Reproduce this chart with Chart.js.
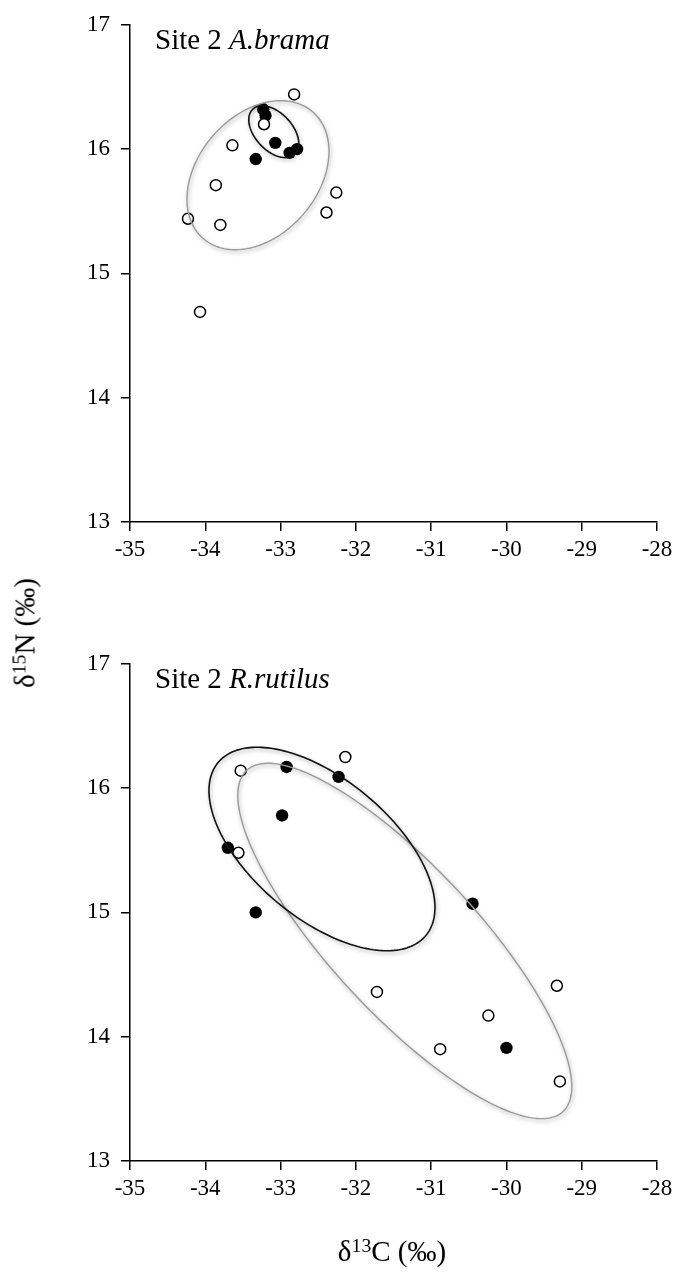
<!DOCTYPE html>
<html>
<head>
<meta charset="utf-8">
<script src="https://cdn.jsdelivr.net/npm/chart.js@4.4.1/dist/chart.umd.min.js"></script>
<style>
    body { margin: 0; background: #fff; }
    #wrap { position: relative; width: 678px; height: 1282px; font-family: "Liberation Serif", "Times New Roman", serif; color: #000; }
    .painel { position: absolute; left: 0; width: 678px; height: 600px; }
    #rotuloY { position: absolute; left: 25px; top: 633px; transform: translate(-50%, -50%) rotate(-90deg); font-size: 29px; white-space: nowrap; }
    #rotuloX { position: absolute; left: 392px; top: 1251px; transform: translate(-50%, -50%); font-size: 29px; white-space: nowrap; }
    sup { font-size: 0.68em; vertical-align: 0.45em; line-height: 0; }
</style>
</head>
<body>
<div id="wrap">
    <canvas id="graficoBrama" class="painel" width="678" height="600" style="top:0px"></canvas>
    <canvas id="graficoRutilus" class="painel" width="678" height="600" style="top:639px"></canvas>
    <div id="rotuloY">δ<sup>15</sup>N (‰)</div>
    <div id="rotuloX">δ<sup>13</sup>C (‰)</div>
</div>
<script>
// eixos
const ticksX = [-35, -34, -33, -32, -31, -30, -29, -28];
const ticksY = [13, 14, 15, 16, 17];

// Site 2 A. brama
const bramaAbertosX = [-32.82, -33.22, -33.64, -33.86, -34.23, -33.80, -32.26, -32.39, -34.07];
const bramaAbertosY = [16.44, 16.20, 16.03, 15.71, 15.44, 15.39, 15.65, 15.49, 14.69];
const bramaCheiosX = [-33.23, -33.20, -33.07, -33.33, -32.88, -32.78];
const bramaCheiosY = [16.32, 16.27, 16.05, 15.92, 15.97, 16.00];
// elipses: centro x, centro y, eixo u (x, y), eixo v (x, y) em unidades dos dados
const bramaElipseCinza = [-33.30, 15.79, 0.943, 0.192, 0, 0.568];
const bramaElipsePreta = [-33.09, 16.14, 0.332, -0.096, 0, 0.185];

// Site 2 R. rutilus
const rutilusAbertosX = [-33.53, -32.14, -33.56, -31.72, -29.33, -30.24, -30.88, -29.29];
const rutilusAbertosY = [16.14, 16.25, 15.48, 14.36, 14.41, 14.17, 13.90, 13.64];
const rutilusCheiosX = [-32.92, -32.23, -32.98, -33.70, -33.33, -30.45, -30.00];
const rutilusCheiosY = [16.17, 16.09, 15.78, 15.52, 15.00, 15.07, 13.91];
const rutilusElipseCinza = [-31.35, 14.77, 2.218, -1.171, 0, 0.82];
const rutilusElipsePreta = [-32.45, 15.51, 1.501, -0.47, 0, 0.67];

const fonte = '"Liberation Serif", "Times New Roman", serif';

function pontos(xs, ys) {
    return xs.map((x, i) => ({ x: x, y: ys[i] }));
}

// desenha as elipses por cima dos pontos
const pluginElipses = {
    id: 'elipses',
    afterDatasetsDraw(chart, args, opts) {
        const ctx = chart.ctx;
        const sx = chart.scales.x;
        const sy = chart.scales.y;
        (opts.lista || []).forEach(el => {
            const [cx, cy, ux, uy, vx, vy] = el.valores;
            ctx.save();
            ctx.beginPath();
            for (let i = 0; i <= 200; i++) {
                const t = i / 200 * Math.PI * 2;
                const px = sx.getPixelForValue(cx + ux * Math.cos(t) + vx * Math.sin(t));
                const py = sy.getPixelForValue(cy + uy * Math.cos(t) + vy * Math.sin(t));
                if (i === 0) ctx.moveTo(px, py); else ctx.lineTo(px, py);
            }
            ctx.closePath();
            ctx.shadowColor = 'rgba(0,0,0,0.35)';
            ctx.shadowBlur = 4;
            ctx.shadowOffsetX = 1;
            ctx.shadowOffsetY = 2;
            ctx.strokeStyle = el.cor;
            ctx.lineWidth = el.largura;
            ctx.stroke();
            ctx.restore();
        });
    }
};

// título dentro da área do gráfico: "Site 2 " + espécie em itálico
const pluginTitulo = {
    id: 'tituloEspecie',
    afterDraw(chart, args, opts) {
        const ctx = chart.ctx;
        const x = chart.chartArea.left + 25;
        const y = chart.chartArea.top + 24;
        ctx.save();
        ctx.fillStyle = '#000';
        ctx.textBaseline = 'alphabetic';
        ctx.font = '29px ' + fonte;
        ctx.fillText('Site 2 ', x, y);
        const w = ctx.measureText('Site 2 ').width;
        ctx.font = 'italic 29px ' + fonte;
        ctx.fillText(opts.especie, x + w, y);
        ctx.restore();
    }
};

function criarGrafico(id, abertos, cheios, elipses, especie) {
    return new Chart(document.getElementById(id), {
        type: 'scatter',
        data: {
            datasets: [{
                data: abertos,
                pointRadius: 5.5,
                pointBorderWidth: 1.5,
                pointBackgroundColor: '#fff',
                pointBorderColor: '#000',
            }, {
                data: cheios,
                pointRadius: 6.2,
                pointBorderWidth: 0,
                pointBackgroundColor: '#000',
                pointBorderColor: '#000',
            }]
        },
        options: {
            responsive: false,
            animation: false,
            events: [],
            layout: { padding: { left: 0, top: 22, right: 21, bottom: 18 } },
            plugins: {
                legend: { display: false },
                tooltip: { enabled: false },
                elipses: { lista: elipses },
                tituloEspecie: { especie: especie },
            },
            scales: {
                x: {
                    type: 'linear',
                    min: -35,
                    max: -28,
                    afterBuildTicks: eixo => { eixo.ticks = ticksX.map(v => ({ value: v })); },
                    afterFit: eixo => { eixo.height = 60; },
                    grid: { drawOnChartArea: false, tickLength: 9, color: '#000', lineWidth: 1.5 },
                    border: { color: '#000', width: 1.5 },
                    ticks: { color: '#000', font: { family: fonte, size: 23 }, padding: 5, maxRotation: 0 },
                },
                y: {
                    type: 'linear',
                    min: 13,
                    max: 17,
                    afterBuildTicks: eixo => { eixo.ticks = ticksY.map(v => ({ value: v })); },
                    afterFit: eixo => { eixo.width = 130; },
                    grid: { drawOnChartArea: false, tickLength: 9, color: '#000', lineWidth: 1.5 },
                    border: { color: '#000', width: 1.5 },
                    ticks: { color: '#000', font: { family: fonte, size: 23 }, padding: 11 },
                }
            }
        },
        plugins: [pluginElipses, pluginTitulo]
    });
}

criarGrafico('graficoBrama',
    pontos(bramaAbertosX, bramaAbertosY),
    pontos(bramaCheiosX, bramaCheiosY),
    [
        { valores: bramaElipseCinza, cor: '#9a9a9a', largura: 1.4 },
        { valores: bramaElipsePreta, cor: '#111', largura: 1.6 },
    ],
    'A.brama');

criarGrafico('graficoRutilus',
    pontos(rutilusAbertosX, rutilusAbertosY),
    pontos(rutilusCheiosX, rutilusCheiosY),
    [
        { valores: rutilusElipseCinza, cor: '#9a9a9a', largura: 1.4 },
        { valores: rutilusElipsePreta, cor: '#111', largura: 1.6 },
    ],
    'R.rutilus');
</script>
</body>
</html>
